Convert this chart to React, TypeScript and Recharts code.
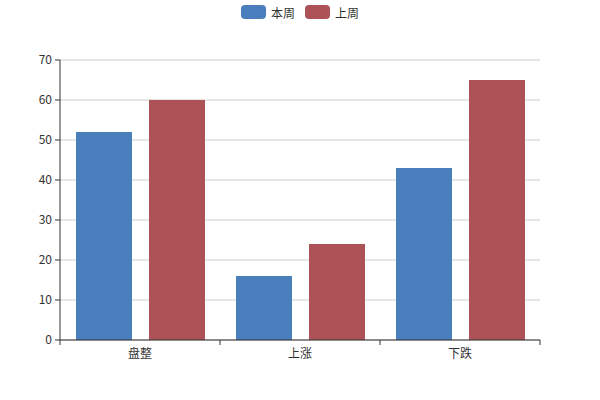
import React from 'react';
import { BarChart, Bar, XAxis, YAxis, CartesianGrid, Legend } from 'recharts';

const categories = ['盘整', '上涨', '下跌'];
const thisWeek = [52, 16, 43];
const lastWeek = [60, 24, 65];
const yTicks = [0, 10, 20, 30, 40, 50, 60, 70];

const seriesNames = { thisWeek: '本周', lastWeek: '上周' };
const colors = { thisWeek: '#4b7ebc', lastWeek: '#ad5357' };

const data = categories.map((name, i) => ({
    name,
    thisWeek: thisWeek[i],
    lastWeek: lastWeek[i],
}));

const FONT = '"Microsoft YaHei", "Noto Sans CJK SC", sans-serif';
const BAND = 160;

function CategoryTick(props: any) {
    const { x, y, payload, index } = props;
    const last = index === categories.length - 1;
    return (
        <g>
            <line x1={x - BAND / 2} y1={y - 8} x2={x - BAND / 2} y2={y - 3} stroke="#333" />
            {last && <line x1={x + BAND / 2} y1={y - 8} x2={x + BAND / 2} y2={y - 3} stroke="#333" />}
            <text x={x} y={y + 10} textAnchor="middle" fontSize={12} fill="#333" fontFamily={FONT}>
                {payload.value}
            </text>
        </g>
    );
}

function TopLegend() {
    const items = [
        { key: 'thisWeek', label: seriesNames.thisWeek, color: colors.thisWeek },
        { key: 'lastWeek', label: seriesNames.lastWeek, color: colors.lastWeek },
    ];
    return (
        <div style={{ display: 'flex', justifyContent: 'center', gap: 10, height: 16, fontFamily: FONT, fontSize: 12, color: '#333' }}>
            {items.map(it => (
                <div key={it.key} style={{ display: 'flex', alignItems: 'center' }}>
                    <span style={{ display: 'inline-block', width: 25, height: 14, borderRadius: 4, background: it.color, marginRight: 5 }} />
                    <span>{it.label}</span>
                </div>
            ))}
        </div>
    );
}

export default function App() {
    return (
        <div style={{ position: 'absolute', left: 0, top: 0, width: 600, height: 400, background: '#fff' }}>
            <BarChart
                width={600}
                height={400}
                data={data}
                margin={{ top: 44, right: 60, left: 0, bottom: 30 }}
                barCategoryGap={16}
                barGap={17}
            >
                <CartesianGrid stroke="#ccc" vertical={false} />
                <Legend verticalAlign="top" align="center" height={16} wrapperStyle={{ top: 4, left: 0, width: 600 }} content={<TopLegend />} />
                <XAxis
                    dataKey="name"
                    height={30}
                    axisLine={{ stroke: '#333' }}
                    tickLine={false}
                    tick={<CategoryTick />}
                    interval={0}
                />
                <YAxis
                    width={60}
                    domain={[0, 70]}
                    ticks={yTicks}
                    axisLine={{ stroke: '#333' }}
                    tickLine={{ stroke: '#333' }}
                    tickSize={5}
                    tickMargin={3}
                    tick={{ fontSize: 12, fill: '#333', fontFamily: FONT }}
                />
                <Bar dataKey="thisWeek" name={seriesNames.thisWeek} fill={colors.thisWeek} isAnimationActive={false} />
                <Bar dataKey="lastWeek" name={seriesNames.lastWeek} fill={colors.lastWeek} isAnimationActive={false} />
            </BarChart>
        </div>
    );
}
